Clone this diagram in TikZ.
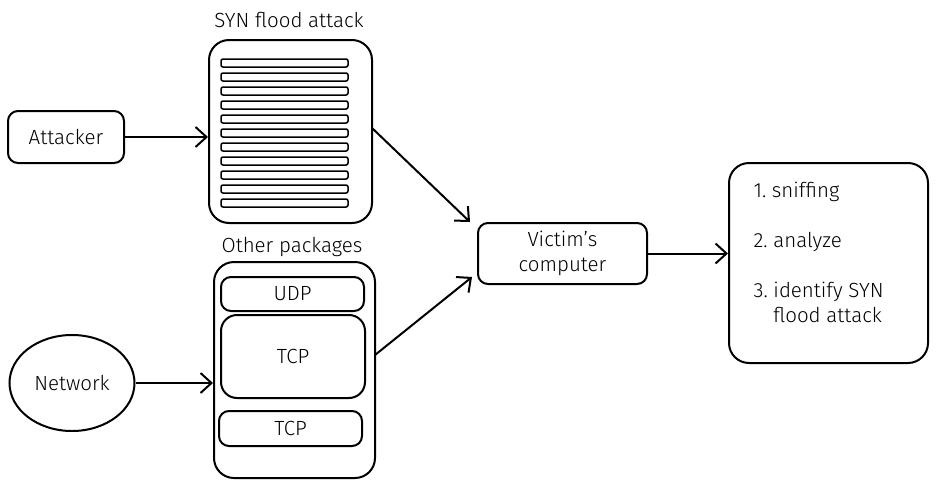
\documentclass[tikz,border=0pt]{standalone}
\usepackage{fontspec}
\setmainfont{Fira Sans Light}
\usetikzlibrary{arrows.meta,shapes.geometric,calc}
\begin{document}
\begin{tikzpicture}[x=1pt,y=-1pt,
  box/.style={draw,line width=2pt,rounded corners=10pt,inner sep=0pt},
  bigbox/.style={draw,line width=2pt,rounded corners=20pt,inner sep=0pt},
  bar/.style={draw,line width=1.5pt,rounded corners=2pt,minimum width=127pt,minimum height=8pt,inner sep=0pt},
  lbl/.style={font=\fontsize{20.5}{25}\selectfont},
  conn/.style={line width=2pt,-{Straight Barb[length=11pt,width=20pt,line width=2pt]}}]
\useasboundingbox (0,0) rectangle (936,490);
\fill[white] (0,0) rectangle (936,490);
% attacker
\node[box,minimum width=116pt,minimum height=52pt,lbl] (att) at (66,137) {Attacker};
% SYN flood box
\node[bigbox,minimum width=163pt,minimum height=183pt] (syn) at (290.5,131.5) {};
\node[lbl] (synl) at (289,20) {SYN flood attack};
\foreach \i in {0,...,10}{
  \node[bar] (b\i) at (284.5,{63+14*\i}) {};
}
% other packages
\node[bigbox,minimum width=161pt,minimum height=216pt] (oth) at (294.5,370) {};
\node[lbl] (othl) at (292,247) {Other packages};
\node[box,minimum width=143pt,minimum height=34pt,lbl] (udp) at (292.5,294) {UDP};
\node[box,rounded corners=16pt,minimum width=144pt,minimum height=83pt,lbl] (tcp1) at (293,356.5) {TCP};
\node[box,minimum width=143pt,minimum height=35pt,lbl] (tcp2) at (290.5,428.5) {TCP};
% network
\node[ellipse,draw,line width=2pt,minimum width=125pt,minimum height=96pt,inner sep=0pt,lbl] (net) at (72,383) {Network};
% victim
\node[box,minimum width=169pt,minimum height=61pt,lbl,align=center] (vic) at (562.5,253.5) {Victim's\\computer};
% steps
\node[bigbox,minimum width=199pt,minimum height=200pt] (steps) at (828.5,263) {};
\node[lbl,anchor=base west] (s1) at (750,197) {1.\ sniffing};
\node[lbl,anchor=base west] (s2) at (750,247) {2.\ analyze};
\node[lbl,anchor=base west] (s3) at (750,297) {3.\ identify SYN};
\node[lbl,anchor=base west] (s3b) at (750,322) {\phantom{3.\ }flood attack};
% connectors
\coordinate (synout) at (372,128);
\coordinate (vicin1) at (470,222);
\coordinate (othout) at (375,355);
\coordinate (vicin2) at (472,277);
\draw[conn] (att.east) -- (att.east -| syn.west);
\draw[conn] (net.east) -- (net.east -| oth.west);
\draw[conn] (synout) -- (vicin1);
\draw[conn] (othout) -- (vicin2);
\draw[conn] (vic.east) -- (vic.east -| steps.west);
\end{tikzpicture}
\end{document}
